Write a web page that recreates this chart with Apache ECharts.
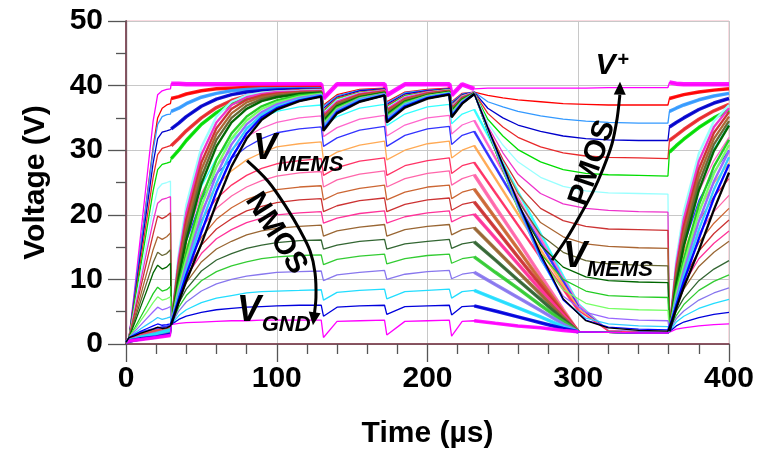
<!DOCTYPE html>
<html>
<head>
<meta charset="utf-8">
<script src="https://cdn.jsdelivr.net/npm/echarts@6/dist/echarts.min.js"></script>
<style>
  html, body { margin: 0; padding: 0; background: #ffffff; }
  #chart { width: 758px; height: 454px; }
</style>
</head>
<body>
<div id="chart"></div>
<script>
// Sample instants (µs) for the pull-up (PMOS) family of traces
const timeP = [0, 2, 6, 10, 14, 18, 21, 24, 27, 29.5,
  30, 35, 40, 50, 60, 70, 80, 90, 100, 115, 129.5,
  131, 140, 155, 171.5,
  173, 185, 200, 214.5,
  216, 223, 231,
  240, 250, 260, 275, 290, 305, 320, 340, 359.5,
  360.5, 365, 370, 380, 390, 400];

// Sample instants (µs) for the pull-down (NMOS) family of traces
const timeN = [0, 3, 10, 20, 29.5,
  30, 35, 40, 50, 60, 70, 80, 90, 100, 115, 129.5,
  131, 140, 155, 171.5,
  173, 185, 200, 214.5,
  216, 223, 231,
  245, 260, 275, 290, 300, 320, 340, 359.5,
  360.5, 365, 370, 380, 390, 400];

// V_MEMS (V) for each PMOS setting, aligned with timeP
const pmosVoltage = [
  [0.3, 1, 9, 17.5, 26, 34.5, 38.6, 39.2, 39.4, 39.5,
   40.3, 40.3, 40.2, 40.2, 40.2, 40.2, 40.2, 40.2, 40.2, 40.2, 40.2,
   38, 40.2, 40.2, 40.2, 38.5, 40.2, 40.2, 40.2, 38.5, 40.2, 39.5,
   39.6, 39.6, 39.6, 39.6, 39.6, 39.6, 39.7, 39.7, 39.7,
   40.5, 40.3, 40.2, 40.2, 40.2, 40.2],
  [0.3, 1, 8, 15.5, 23, 30.5, 35, 36.5, 37, 37.2,
   38, 38.3, 38.7, 39.2, 39.5, 39.6, 39.7, 39.7, 39.7, 39.7, 39.7,
   37, 38.6, 39.4, 39.6, 37.5, 39, 39.4, 39.6, 37.5, 38.8, 39,
   38.5, 38.1, 37.8, 37.5, 37.2, 37.1, 37, 37, 37,
   38, 38.3, 38.6, 39, 39.3, 39.5],
  [0.3, 1, 8.3, 15.5, 22.8, 30, 34, 35.2, 35.5, 35.6,
   36, 36.5, 37.2, 38.2, 38.8, 39.2, 39.4, 39.5, 39.5, 39.5, 39.5,
   36.8, 38.4, 39.3, 39.5, 37.3, 38.9, 39.3, 39.5, 37.4, 38.7, 39,
   37.5, 36.7, 36, 35.3, 34.8, 34.5, 34.3, 34.2, 34.2,
   36, 36.5, 37, 37.8, 38.4, 38.8],
  [0.3, 1, 7.7, 14.5, 21.2, 28, 31.8, 32.8, 33, 33.2,
   33.3, 34.2, 35.2, 36.8, 37.9, 38.6, 39, 39.2, 39.3, 39.4, 39.4,
   36.5, 38.2, 39.2, 39.5, 37.1, 38.7, 39.2, 39.5, 37.2, 38.6, 39,
   36.5, 35, 33.9, 32.9, 32.2, 31.8, 31.6, 31.5, 31.5,
   33.6, 34.3, 35, 36.3, 37.3, 38],
  [0.3, 1, 7.2, 13.4, 19.6, 25.8, 29.3, 30.3, 30.5, 30.7,
   30.7, 31.8, 33, 35, 36.6, 37.7, 38.4, 38.8, 39, 39.2, 39.3,
   36.2, 38.1, 39, 39.4, 36.9, 38.5, 39.1, 39.4, 37, 38.5, 38.9,
   35.7, 33.6, 32, 30.5, 29.6, 29.1, 28.9, 28.8, 28.7,
   31.5, 32.3, 33.2, 34.8, 36.1, 37.1],
  [0.3, 1, 6.7, 12.4, 18, 23.7, 27, 27.8, 28, 28.2,
   28.7, 30, 31.5, 34, 35.8, 37.2, 38, 38.5, 38.8, 39, 39.1,
   36, 37.9, 38.9, 39.3, 36.7, 38.4, 39, 39.4, 36.9, 38.4, 38.9,
   34.8, 32.2, 30.1, 28.2, 27, 26.4, 26.2, 26.1, 26,
   29.7, 30.7, 31.7, 33.5, 35, 36.2],
  [0.3, 1, 6, 11, 16, 21, 24, 24.8, 25, 25.2,
   3, 14, 21.5, 30.5, 35.2, 37.5, 38.5, 38.9, 39.1, 39.2, 39.3,
   35.7, 37.7, 38.8, 39.2, 36.5, 38.2, 38.9, 39.3, 36.7, 38.3, 38.9,
   34.2, 30.8, 28.2, 25.8, 24.4, 23.7, 23.4, 23.3, 23.2,
   2, 13, 20.5, 29.5, 34.5, 37],
  [0.3, 1, 5.5, 10, 14.6, 19, 21.8, 22.4, 22.6, 22.8,
   3, 13.2, 20.3, 29.3, 34.3, 37, 38.2, 38.7, 39, 39.1, 39.2,
   35.5, 37.5, 38.7, 39.2, 36.3, 38.1, 38.9, 39.2, 36.6, 38.2, 38.9,
   33.7, 29.6, 26.3, 23.3, 21.7, 21, 20.7, 20.5, 20.4,
   2, 12.2, 19.3, 28.3, 33.6, 36.5],
  [0.3, 1, 5, 9, 13, 17, 19.8, 19.4, 19.8, 20.3,
   3, 12.4, 19.2, 28.1, 33.4, 36.4, 37.8, 38.5, 38.8, 39, 39.1,
   35.2, 37.3, 38.6, 39.1, 36.1, 37.9, 38.8, 39.2, 36.4, 38.1, 38.8,
   33.3, 28.6, 24.7, 21, 19.1, 18.2, 17.8, 17.7, 17.6,
   2, 11.4, 18.2, 27.1, 32.7, 35.9],
  [0.3, 1, 4.4, 7.8, 11.2, 14.6, 16.6, 16.2, 16.6, 17.2,
   3, 11.7, 18.1, 27, 32.5, 35.7, 37.4, 38.2, 38.6, 38.9, 39,
   35, 37.2, 38.4, 39, 35.9, 37.8, 38.7, 39.1, 36.3, 38, 38.8,
   33, 27.8, 23.3, 18.8, 16.6, 15.5, 15.1, 14.9, 14.8,
   2, 10.7, 17.1, 26, 31.8, 35.2],
  [0.3, 1, 3.9, 6.8, 9.7, 12.6, 14.2, 13.7, 14, 14.6,
   3, 11, 17.1, 25.9, 31.6, 35, 36.9, 37.9, 38.4, 38.8, 39,
   34.7, 37, 38.3, 38.9, 35.7, 37.6, 38.6, 39, 36.1, 37.9, 38.8,
   33, 27.2, 22.2, 16.9, 14.2, 12.9, 12.4, 12.2, 12.1,
   2, 10, 16.1, 24.9, 30.9, 34.5],
  [0.3, 1, 3.4, 5.9, 8.4, 11, 12.2, 11.6, 11.9, 12.5,
   3, 10.3, 16.1, 24.8, 30.6, 34.3, 36.4, 37.6, 38.2, 38.7, 38.9,
   34.5, 36.8, 38.2, 38.9, 35.5, 37.5, 38.5, 39, 36, 37.8, 38.8,
   32.9, 26.9, 21.4, 15.3, 11.9, 10.4, 9.8, 9.6, 9.5,
   2, 9.3, 15.1, 23.8, 29.9, 33.8],
  [0.3, 1, 2.6, 4.3, 6, 7.8, 8.8, 8.2, 8.4, 8.9,
   3, 9.2, 14.1, 22.5, 28.5, 32.6, 35.2, 36.8, 37.7, 38.5, 38.8,
   34.2, 36.6, 38.1, 38.8, 35.3, 37.4, 38.4, 38.9, 35.8, 37.7, 38.8,
   33, 26.9, 20.9, 14, 10, 8.2, 7.5, 7.3, 7.2,
   2, 8.2, 13.1, 21.5, 27.5, 31.6],
  [0.3, 1, 2.3, 3.7, 5, 6.4, 7.3, 6.8, 7, 7.3,
   3, 8.6, 13.2, 21.3, 27.4, 31.8, 34.6, 36.4, 37.4, 38.3, 38.7,
   34, 36.4, 38, 38.7, 35.1, 37.2, 38.4, 38.9, 35.7, 37.6, 38.7,
   33.1, 27, 21, 13.3, 8.4, 6.3, 5.5, 5.3, 5.2,
   2, 7.6, 12.2, 20.3, 26.4, 30.8],
  [0.3, 1, 2, 3, 4, 5, 5.7, 5.3, 5.5, 5.8,
   3, 8, 12.3, 20, 26.2, 30.9, 34, 35.9, 37.1, 38.1, 38.6,
   33.7, 36.2, 37.9, 38.7, 34.9, 37.1, 38.3, 38.8, 35.5, 37.5, 38.7,
   33.2, 27.2, 21.2, 13, 7.4, 4.9, 4, 3.7, 3.6,
   2, 7, 11.3, 19, 25.2, 29.9],
  [0.3, 1, 1.7, 2.4, 3, 3.6, 4.1, 3.8, 4, 4.2,
   3, 7.5, 11.5, 18.7, 24.9, 29.9, 33.3, 35.5, 36.8, 37.9, 38.5,
   33.5, 36, 37.8, 38.6, 34.7, 37, 38.2, 38.8, 35.4, 37.4, 38.7,
   33.3, 27.4, 21.5, 13.2, 6.9, 4, 3.1, 2.8, 2.7,
   2, 6.5, 10.5, 17.7, 23.9, 28.9],
  [0.3, 1, 1.5, 2, 2.4, 2.8, 3.1, 2.9, 3, 3.1,
   3, 7, 10.7, 17.3, 23.6, 28.8, 32.6, 35.1, 36.5, 37.7, 38.4,
   33.2, 35.9, 37.6, 38.5, 34.5, 36.8, 38.1, 38.7, 35.2, 37.3, 38.7,
   33.4, 27.6, 21.8, 13.6, 6.8, 3.7, 2.6, 2.3, 2.2,
   2, 6, 9.7, 16.3, 22.6, 27.8],
  [0.3, 1, 1.3, 1.7, 2, 2.3, 2.6, 2.4, 2.5, 2.8,
   3, 6.5, 9.8, 15.5, 21.8, 27.5, 31.8, 34.7, 36.3, 37.6, 38.3,
   33, 35.7, 37.5, 38.5, 34.3, 36.6, 38, 38.6, 35.1, 37.2, 38.7,
   33.5, 27.8, 22, 14, 7, 3.6, 2.5, 2.1, 2,
   2, 5.5, 8.8, 14.5, 20.8, 26.5]
];

// V_MEMS (V) for each NMOS setting, aligned with timeN
const nmosVoltage = [
  [0.3, 0.8, 1.6, 2.2, 2.6, 3, 11.5, 17.3, 24.4, 28.8, 31.6, 33.6, 35, 36, 36.7, 37,
   33.7, 35.2, 36.5, 37.1, 33.8, 35.6, 36.7, 37.1, 34.1, 35.6, 36.3,
   30.2, 23.6, 17.1, 10.5, 6.3, 2.1, 1.9, 1.8, 2, 11, 17, 25, 30.2, 34],
  [0.3, 0.7, 1.4, 2, 2.4, 3, 11.1, 16.6, 23.3, 27.5, 30.1, 32.1, 33.4, 34.3, 35, 35.3,
   32.1, 33.5, 34.8, 35.4, 32.2, 33.9, 35, 35.4, 32.5, 33.9, 34.6,
   28.8, 22.6, 16.3, 10.1, 6.1, 2.1, 1.9, 1.8, 2, 10.4, 16.1, 23.6, 28.4, 32],
  [0.3, 0.8, 1.8, 2.4, 2.8, 3, 10.7, 15.9, 22.3, 26.3, 28.7, 30.5, 31.8, 32.7, 33.3, 33.6,
   30.6, 31.9, 33.1, 33.7, 30.6, 32.3, 33.3, 33.7, 30.9, 32.3, 32.9,
   27.4, 21.5, 15.6, 9.7, 5.8, 2, 1.9, 1.8, 2, 9.8, 15.2, 22.2, 26.6, 30],
  [0.3, 0.6, 1.2, 1.8, 2.2, 3, 10.1, 14.9, 20.8, 24.5, 26.8, 28.5, 29.6, 30.5, 31, 31.3,
   28.5, 29.7, 30.8, 31.4, 28.5, 30, 31, 31.4, 28.8, 30, 30.7,
   25.6, 20.1, 14.6, 9.1, 5.5, 2, 1.8, 1.8, 2, 9.3, 14.2, 20.7, 24.9, 28],
  [0.3, 0.7, 1.5, 2.1, 2.5, 3, 9.4, 13.8, 19.2, 22.5, 24.6, 26.1, 27.2, 27.9, 28.4, 28.7,
   26.1, 27.3, 28.3, 28.8, 26.1, 27.6, 28.4, 28.8, 26.4, 27.6, 28.1,
   23.4, 18.4, 13.4, 8.5, 5.2, 2, 1.8, 1.7, 2, 8.6, 13.1, 19, 22.8, 25.6],
  [0.3, 0.6, 1.1, 1.6, 2, 3, 8.9, 13, 17.9, 21, 22.9, 24.3, 25.3, 26, 26.5, 26.7,
   24.3, 25.4, 26.3, 26.8, 24.3, 25.6, 26.4, 26.8, 24.6, 25.6, 26.2,
   21.2, 16, 10.6, 5.3, 1.9, 1.8, 1.7, 1.7, 2, 7.9, 11.9, 17.1, 20.5, 23],
  [0.3, 0.7, 1.3, 1.9, 2.3, 3, 8.4, 12, 16.5, 19.3, 21.1, 22.4, 23.2, 23.9, 24.3, 24.5,
   22.3, 23.3, 24.1, 24.6, 22.3, 23.5, 24.3, 24.6, 22.5, 23.5, 24,
   19.5, 14.7, 9.8, 5, 1.9, 1.8, 1.7, 1.7, 2, 7.3, 10.9, 15.7, 18.7, 21],
  [0.3, 0.6, 1, 1.5, 1.9, 3, 7.9, 11.2, 15.3, 17.8, 19.4, 20.6, 21.3, 21.9, 22.3, 22.5,
   20.5, 21.4, 22.2, 22.6, 20.5, 21.6, 22.3, 22.6, 20.7, 21.6, 22,
   17.9, 13.5, 9.1, 4.7, 1.9, 1.8, 1.7, 1.7, 2, 6.8, 10.1, 14.4, 17.1, 19.2],
  [0.3, 0.7, 1.2, 1.7, 2.1, 3, 7.4, 10.4, 14, 16.3, 17.7, 18.8, 19.5, 20, 20.3, 20.5,
   18.7, 19.5, 20.2, 20.6, 18.7, 19.7, 20.3, 20.6, 18.9, 19.7, 20.1,
   16.4, 12.4, 8.4, 4.5, 1.9, 1.8, 1.7, 1.7, 2, 6.3, 9.3, 13.2, 15.6, 17.5],
  [0.3, 0.6, 0.9, 1.4, 1.8, 3, 6.9, 9.5, 12.7, 14.7, 15.9, 16.9, 17.5, 17.9, 18.2, 18.4,
   16.7, 17.5, 18.1, 18.5, 16.7, 17.7, 18.2, 18.5, 16.9, 17.7, 18,
   14.7, 11.2, 7.7, 4.1, 1.9, 1.8, 1.7, 1.7, 2, 5.9, 8.5, 12, 14.2, 15.9],
  [0.3, 0.5, 0.9, 1.3, 1.7, 3, 6.3, 8.5, 11.3, 13, 14, 14.8, 15.3, 15.7, 16, 16.1,
   14.7, 15.3, 15.9, 16.2, 14.7, 15.5, 15.9, 16.2, 14.8, 15.5, 15.8,
   13, 9.9, 6.9, 3.8, 1.9, 1.8, 1.7, 1.7, 2, 5.1, 7.1, 9.8, 11.6, 12.9],
  [0.3, 0.6, 1, 1.5, 2, 3, 5.7, 7.5, 9.8, 11.2, 12.1, 12.7, 13.2, 13.5, 13.7, 13.8,
   12.3, 13.1, 13.6, 13.9, 12.4, 13.2, 13.7, 13.9, 12.5, 13.2, 13.5,
   11.1, 8.6, 6, 3.5, 1.9, 1.8, 1.7, 1.7, 2, 4.4, 6.1, 8.3, 9.7, 10.7],
  [0.3, 0.5, 0.8, 1.2, 1.6, 3, 5.1, 6.5, 8.2, 9.3, 10, 10.5, 10.8, 11.1, 11.2, 11.3,
   9.8, 10.7, 11.1, 11.4, 10, 10.8, 11.2, 11.4, 10.1, 10.8, 11.1,
   9.2, 7.2, 5.2, 3.1, 1.9, 1.8, 1.7, 1.7, 2, 3.9, 5.1, 6.8, 7.9, 8.7],
  [0.3, 0.6, 1.1, 1.6, 2.2, 3, 4.4, 5.3, 6.4, 7.1, 7.5, 7.9, 8.1, 8.2, 8.3, 8.4,
   6.8, 8, 8.3, 8.5, 7, 8.1, 8.3, 8.5, 7.1, 8.1, 8.3,
   7, 5.6, 4.2, 2.7, 1.9, 1.8, 1.7, 1.7, 2, 3.4, 4.3, 5.5, 6.3, 6.9],
  [0.3, 0.5, 0.8, 1.1, 1.5, 3, 3.8, 4.3, 4.9, 5.3, 5.5, 5.7, 5.8, 5.9, 6, 6,
   4.3, 5.7, 5.9, 6, 4.6, 5.8, 5.9, 6, 4.5, 5.8, 5.9,
   5.1, 4.2, 3.3, 2.4, 1.9, 1.8, 1.7, 1.7, 2, 2.8, 3.4, 4.1, 4.6, 4.9],
  [0.3, 0.5, 0.7, 1, 1.3, 3, 3.2, 3.3, 3.4, 3.5, 3.6, 3.6, 3.7, 3.7, 3.7, 3.7,
   1, 3.5, 3.6, 3.7, 1.4, 3.5, 3.6, 3.7, 1.2, 3.5, 3.6,
   3.2, 2.8, 2.5, 2.1, 1.9, 1.8, 1.7, 1.7, 2, 2.3, 2.5, 2.8, 3, 3.1]
];

// Axis tick values
const timeTicks = [0, 100, 200, 300, 400];
const voltTicks = [0, 10, 20, 30, 40, 50];

// Trace colours
const pmosColors = ['#ff00ff', '#ff0000', '#3399ff', '#0000cc', '#e8292b', '#00dd00',
  '#99ffff', '#ee33cc', '#cc3333', '#aa6633', '#666633', '#006600',
  '#22cc22', '#77ff66', '#9966ff', '#33ccff', '#0000ff', '#000000'];
const nmosColors = ['#33ffff', '#ff66cc', '#3333ff', '#ffaa55', '#ff3366', '#ff66aa',
  '#cc6633', '#cc3333', '#ff3399', '#996633', '#336633', '#33cc33',
  '#8877ee', '#22ddff', '#0000dd', '#ff00ff'];

const FONT = '"Liberation Sans", Arial, sans-serif';

function pairs(times, vals) {
  return times.map((t, i) => [t, vals[i]]);
}
// Points of a trace restricted to time windows; a gap entry separates the windows
function windowed(times, vals, windows) {
  const out = [];
  windows.forEach((w, wi) => {
    if (wi > 0) out.push([w[0], '-']);
    times.forEach((t, i) => { if (t >= w[0] && t <= w[1]) out.push([t, vals[i]]); });
  });
  return out;
}

const series = [];
function addTrace(times, vals, color, windows, bandWidth) {
  series.push({
    type: 'line', data: pairs(times, vals), symbol: 'none', silent: true,
    lineStyle: { color: color, width: 1.3 }, animation: false
  });
  series.push({
    type: 'line', data: windowed(times, vals, windows), symbol: 'none', silent: true,
    connectNulls: false,
    lineStyle: { color: color, width: bandWidth, opacity: 0.9 }, animation: false
  });
}

nmosVoltage.forEach((v, k) => {
  addTrace(timeN, v, nmosColors[k], [[0, 29.5], [231, 300]], k >= 5 ? 3.5 : 2.5);
});
pmosVoltage.forEach((v, k) => {
  if (k === 0) addTrace(timeP, v, pmosColors[k], [[30, 231], [360.5, 400]], 4.5);
  else if (k <= 5) addTrace(timeP, v, pmosColors[k], [[30, 129.5], [360.5, 400]], 3.5);
  else addTrace(timeP, v, pmosColors[k], [[30, 231], [360.5, 400]], 2.4);
});

const chart = echarts.init(document.getElementById('chart'), null, { renderer: 'canvas' });

const axisLineColor = '#6a2a3a';
const labelStyle = { color: '#000', fontSize: 30, fontWeight: 'bold', fontFamily: FONT };

chart.setOption({
  animation: false,
  backgroundColor: '#ffffff',
  grid: { left: 126, top: 21, width: 603, height: 326, show: true,
          borderColor: '#f2b6c2', borderWidth: 1, backgroundColor: 'transparent' },
  xAxis: [{
    type: 'value',
    min: timeTicks[0], max: timeTicks[timeTicks.length - 1],
    interval: timeTicks[1] - timeTicks[0],
    name: 'Time (µs)', nameLocation: 'middle', nameGap: 75,
    nameTextStyle: labelStyle,
    axisLine: { show: true, onZero: false, lineStyle: { color: axisLineColor, width: 1.5 } },
    axisTick: { show: true, length: 18, lineStyle: { color: '#555', width: 1.3 } },
    minorTick: { show: true, splitNumber: 5, length: 10, lineStyle: { color: '#555', width: 1.3 } },
    splitLine: { show: true, lineStyle: { color: '#c8c8c8', width: 1 } },
    axisLabel: Object.assign({ margin: 20 }, labelStyle)
  }],
  yAxis: [{
    type: 'value',
    min: voltTicks[0], max: voltTicks[voltTicks.length - 1],
    interval: voltTicks[1] - voltTicks[0],
    name: 'Voltage (V)', nameLocation: 'middle', nameGap: 75,
    nameTextStyle: labelStyle,
    axisLine: { show: true, onZero: false, lineStyle: { color: axisLineColor, width: 1.5 } },
    axisTick: { show: true, length: 18, lineStyle: { color: '#555', width: 1.3 } },
    minorTick: { show: true, splitNumber: 2, length: 10, lineStyle: { color: '#555', width: 1.3 } },
    splitLine: { show: true, lineStyle: { color: '#c8c8c8', width: 1 } },
    axisLabel: Object.assign({ margin: 23 }, labelStyle)
  }, {
    type: 'value', position: 'right',
    min: voltTicks[0], max: voltTicks[voltTicks.length - 1],
    axisLine: { show: true, lineStyle: { color: '#7a5560', width: 1.3 } },
    axisTick: { show: false }, axisLabel: { show: false }, splitLine: { show: false }
  }],
  series: series
});

// Annotation layer: labels and curved arrows positioned in data coordinates
function px(t, v) { return chart.convertToPixel({ gridIndex: 0 }, [t, v]); }

function textAt(t, v, str, font, align, vAlign, rotation) {
  const p = px(t, v);
  return {
    type: 'text', x: p[0], y: p[1], rotation: rotation || 0, z: 100,
    style: { text: str, font: font, fill: '#000',
             textAlign: align, textVerticalAlign: vAlign, align: align, verticalAlign: vAlign }
  };
}

function arrow(path) {
  const pts = path.map(d => px(d[0], d[1]));
  const tip = pts[pts.length - 1];
  const prev = pts[pts.length - 2];
  let dx = tip[0] - prev[0], dy = tip[1] - prev[1];
  const len = Math.hypot(dx, dy); dx /= len; dy /= len;
  const hl = 13, hw = 6;
  const bx = tip[0] - dx * hl, by = tip[1] - dy * hl;
  const head = [tip, [bx - dy * hw, by + dx * hw], [bx + dy * hw, by - dx * hw]];
  const body = pts.slice(0, -1).concat([[bx, by]]);
  return [
    { type: 'polyline', z: 100, shape: { points: body, smooth: 0.35 },
      style: { stroke: '#000', lineWidth: 3, fill: null } },
    { type: 'polygon', z: 100, shape: { points: head }, style: { fill: '#000' } }
  ];
}

const big = 'italic bold 36px ' + FONT;
const sub = 'italic bold 22px ' + FONT;
const word = 'bold 30px ' + FONT;

const nmosArrowPath = [[80.3, 28.4], [94.2, 25.2], [106.8, 21.0], [115.4, 17.6],
  [122.1, 14.4], [125.4, 11.0], [126.0, 7.2], [124.7, 4.1], [124.0, 2.9]];
const pmosArrowPath = [[282.6, 13.0], [292.5, 16.4], [301.2, 19.9], [309.8, 23.6],
  [316.4, 27.1], [322.4, 31.0], [325.7, 34.8], [327.5, 38.3], [327.7, 40.6]];

const graphics = [
  textAt(84.2, 27.4, 'V', big, 'left', 'bottom'),
  textAt(100.5, 26.0, 'MEMS', sub, 'left', 'bottom'),
  textAt(73.6, 2.3, 'V', big, 'left', 'bottom'),
  textAt(90.0, 1.3, 'GND', sub, 'left', 'bottom'),
  textAt(289.9, 10.6, 'V', big, 'left', 'bottom'),
  textAt(305.8, 9.7, 'MEMS', sub, 'left', 'bottom'),
  textAt(311.5, 40.8, 'V', 'italic bold 30px ' + FONT, 'left', 'bottom'),
  textAt(326.0, 42.4, '+', 'bold 20px ' + FONT, 'left', 'bottom'),
  textAt(99.5, 17.1, 'NMOS', word, 'center', 'middle', -1.01),
  textAt(309.5, 28.0, 'PMOS', word, 'center', 'middle', 1.24)
].concat(arrow(nmosArrowPath), arrow(pmosArrowPath));

chart.setOption({ graphic: { elements: graphics } });
</script>
</body>
</html>
